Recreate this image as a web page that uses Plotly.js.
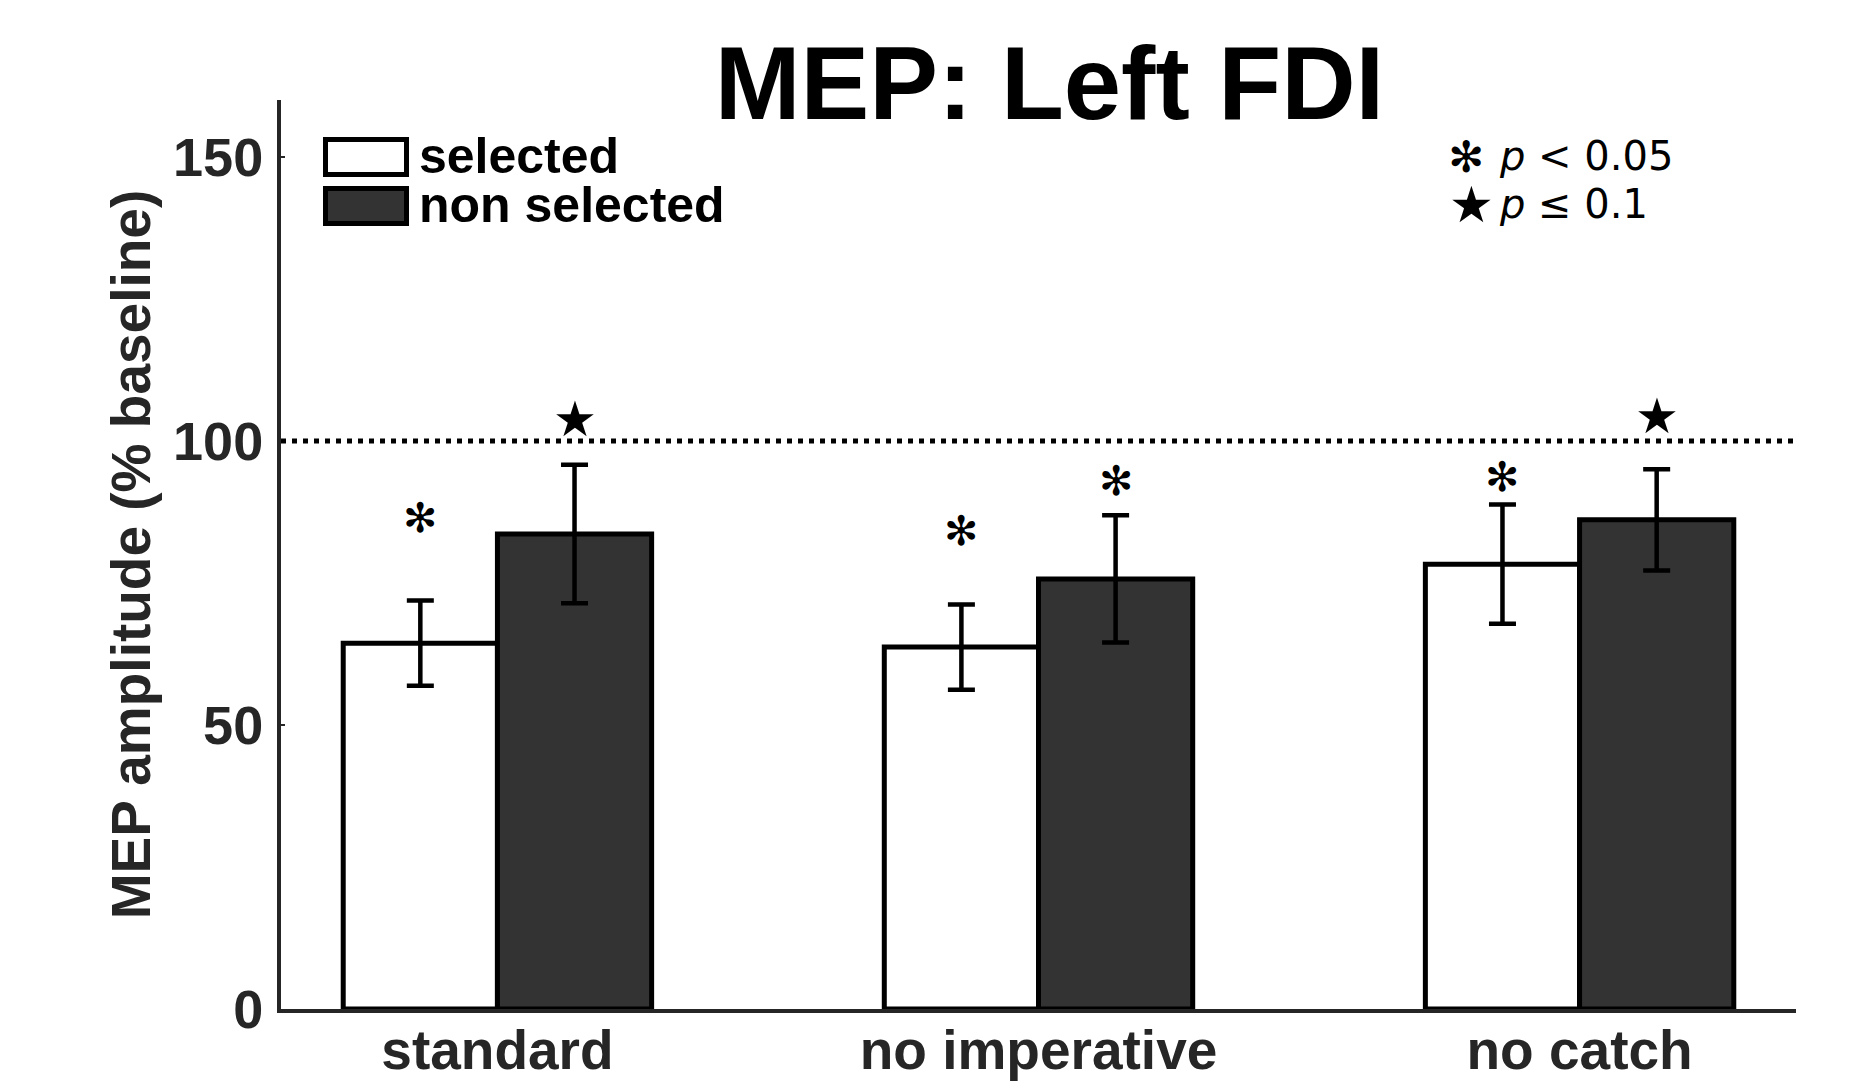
<!DOCTYPE html>
<html>
<head>
<meta charset="utf-8">
<script src="https://cdn.plot.ly/plotly-3.0.1.min.js"></script>
<style>html,body{margin:0;padding:0;background:#fff}#chart{width:1850px;height:1089px}</style>
</head>
<body>
<div id="chart"></div>
<script>
// ---- data ----
const categories = ['standard', 'no imperative', 'no catch'];
const selected = [64.4, 63.7, 78.3];
const selectedErr = [7.5, 7.5, 10.5];
const nonSelected = [83.6, 75.7, 86.1];
const nonSelectedErr = [12.2, 11.2, 8.9];
const sigSelected = ['\u273B', '\u273B', '\u273B'];
const sigSelectedY = [86.4, 84.2, 93.7];
const sigNonSelected = ['\u2605', '\u273B', '\u2605'];
const sigNonSelectedY = [103.7, 92.9, 104.3];
const yTicks = [0, 50, 100, 150];
const baselineLevel = 100;
const seriesNames = ['selected', 'non selected'];

// ---- layout constants ----
const W = 1850, H = 1089;
const M = {l: 281, r: 54, t: 100, b: 80};
const PW = W - M.l - M.r, PH = H - M.t - M.b;
const px2x = px => (px - M.l) / PW;
const px2y = py => (H - M.b - py) / PH;
const FONT = '"Liberation Sans", Arial, Helvetica, sans-serif';
const SYMFONT = '"DejaVu Sans", sans-serif';
const AXC = '#262626';
const DARK = '#333333';
const BARGAP = 0.43;
const halfBar = (1 - BARGAP) / 4;
const xIdx = categories.map((c, i) => i);

const traces = [
  {
    type: 'bar', name: seriesNames[0], x: xIdx, y: selected,
    marker: {color: '#ffffff', line: {color: '#000000', width: 5}},
    error_y: {type: 'data', array: selectedErr, visible: true, color: '#000000', thickness: 4.5, width: 13.5},
    hoverinfo: 'skip'
  },
  {
    type: 'bar', name: seriesNames[1], x: xIdx, y: nonSelected,
    marker: {color: DARK, line: {color: '#000000', width: 5}},
    error_y: {type: 'data', array: nonSelectedErr, visible: true, color: '#000000', thickness: 4.5, width: 13.5},
    hoverinfo: 'skip'
  }
];

const annotations = [];
function sigAnn(sym, x, y) {
  const isStar = sym === '\u2605';
  annotations.push({
    xref: 'x', yref: 'y', x: x, y: y, text: sym, showarrow: false,
    xanchor: 'center', yanchor: 'middle',
    font: {family: SYMFONT, size: isStar ? 49 : 41, color: '#000000'}
  });
}
xIdx.forEach(i => {
  sigAnn(sigSelected[i], i - halfBar, sigSelectedY[i]);
  sigAnn(sigNonSelected[i], i + halfBar, sigNonSelectedY[i]);
});

// custom legend (boxes + labels)
const shapes = [
  {type: 'line', xref: 'paper', yref: 'y', x0: 0, x1: 1, y0: baselineLevel, y1: baselineLevel,
   line: {color: '#000000', width: 5, dash: '5px,6px'}},
  {type: 'rect', xref: 'paper', yref: 'paper', x0: px2x(325.5), x1: px2x(406.5), y0: px2y(174.5), y1: px2y(139.5),
   line: {color: '#000000', width: 5}, fillcolor: '#ffffff'},
  {type: 'rect', xref: 'paper', yref: 'paper', x0: px2x(325.5), x1: px2x(406.5), y0: px2y(223.5), y1: px2y(188.5),
   line: {color: '#000000', width: 5}, fillcolor: DARK}
];
annotations.push(
  {xref: 'paper', yref: 'paper', x: px2x(417), y: px2y(156), text: seriesNames[0], showarrow: false,
   xanchor: 'left', yanchor: 'middle', height: 44, valign: 'middle',
   font: {family: FONT, size: 50, weight: 'bold', color: '#000000'}},
  {xref: 'paper', yref: 'paper', x: px2x(417), y: px2y(205), text: seriesNames[1], showarrow: false,
   xanchor: 'left', yanchor: 'middle', height: 44, valign: 'middle',
   font: {family: FONT, size: 50, weight: 'bold', color: '#000000'}},
  // significance key
  {xref: 'paper', yref: 'paper', x: px2x(1466), y: px2y(157), text: '\u273B', showarrow: false,
   xanchor: 'center', yanchor: 'middle', height: 42, valign: 'middle',
   font: {family: SYMFONT, size: 43, color: '#000000'}},
  {xref: 'paper', yref: 'paper', x: px2x(1471), y: px2y(205), text: '\u2605', showarrow: false,
   xanchor: 'center', yanchor: 'middle', height: 44, valign: 'middle',
   font: {family: SYMFONT, size: 50, color: '#000000'}},
  {xref: 'paper', yref: 'paper', x: px2x(1497), y: px2y(156), text: '<i>p</i> &lt; 0.05', showarrow: false,
   xanchor: 'left', yanchor: 'middle', font: {family: SYMFONT, size: 40, color: '#000000'}},
  {xref: 'paper', yref: 'paper', x: px2x(1497), y: px2y(204), text: '<i>p</i> \u2264 0.1', showarrow: false,
   xanchor: 'left', yanchor: 'middle', font: {family: SYMFONT, size: 40, color: '#000000'}}
);

const layout = {
  width: W, height: H,
  margin: M,
  paper_bgcolor: '#ffffff', plot_bgcolor: '#ffffff',
  showlegend: false,
  barmode: 'group', bargap: BARGAP, bargroupgap: 0,
  title: {
    text: 'MEP: Left FDI',
    font: {family: FONT, size: 103, weight: 'bold', color: '#000000'},
    xref: 'container', yref: 'container', x: 1049.5 / W, xanchor: 'center',
    y: 1 - 47 / H, yanchor: 'top'
  },
  xaxis: {
    range: [-0.4, 2.4], tickvals: xIdx, ticktext: categories,
    showline: true, linecolor: AXC, linewidth: 4, ticks: '', showgrid: false, zeroline: false,
    tickfont: {family: FONT, size: 55, weight: 'bold', color: AXC},
    ticklabelstandoff: -10, layer: 'below traces', fixedrange: true
  },
  yaxis: {
    range: [0, 160], tickvals: yTicks,
    showline: true, linecolor: AXC, linewidth: 4, ticks: 'inside', ticklen: 4, tickwidth: 2, tickcolor: AXC,
    showgrid: false, zeroline: false,
    tickfont: {family: FONT, size: 54, weight: 'bold', color: AXC},
    ticklabelstandoff: 3, layer: 'below traces', fixedrange: true,
    title: {text: 'MEP amplitude (% baseline)', standoff: 6,
            font: {family: FONT, size: 55, weight: 'bold', color: AXC}}
  },
  shapes: shapes,
  annotations: annotations
};

Plotly.newPlot('chart', traces, layout, {staticPlot: true, displayModeBar: false});
</script>
</body>
</html>
